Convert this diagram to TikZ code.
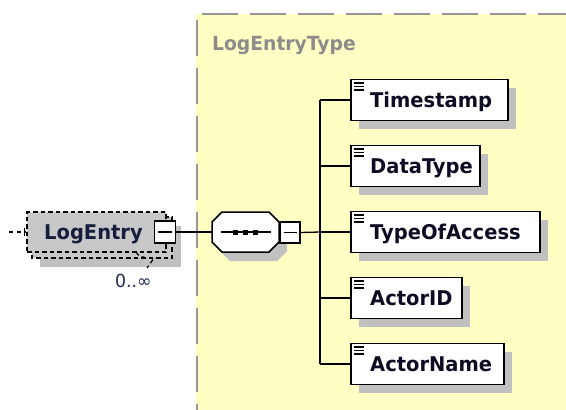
\documentclass[tikz,border=0pt]{standalone}
\usepackage{fontspec}
\setmainfont{DejaVu Sans}[FakeStretch=0.96]
\usetikzlibrary{calc,shadows}
\definecolor{yel}{RGB}{255,255,196}
\definecolor{bordgray}{RGB}{150,150,150}
\definecolor{boxgray}{RGB}{200,200,200}
\definecolor{shad}{RGB}{192,192,192}
\definecolor{txt}{RGB}{12,12,36}
\definecolor{navytxt}{RGB}{30,40,80}
\definecolor{typegray}{RGB}{140,140,140}
\begin{document}
\begin{tikzpicture}[x=1pt,y=-1pt,
  conn/.style={draw=black, line width=1.3pt},
  dsh/.style={draw=black, line width=1.2pt, dash pattern=on 4.5pt off 3pt},
  elem/.style={draw=black, line width=1.6pt, fill=white, minimum height=41pt,
    inner sep=0pt, anchor=west,
    drop shadow={shadow xshift=8pt, shadow yshift=-8pt, fill=shad, opacity=1},
    path picture={\draw[line width=1.1pt]
      ([shift={(3,3.5)}]path picture bounding box.north west) -- ++(10,0)
      ([shift={(3,7)}]path picture bounding box.north west) -- ++(10,0)
      ([shift={(3,10.5)}]path picture bounding box.north west) -- ++(10,0);}},
  elemtxt/.style={font=\fontsize{20.3}{23}\selectfont\bfseries, text=txt,
    inner sep=0pt, anchor=base west},
  minusbox/.style={draw=black, line width=1.4pt, fill=white, inner sep=0pt,
    path picture={\draw[line width=1.2pt]
      ($(path picture bounding box.west)+(3.5,0)$) --
      ($(path picture bounding box.east)+(-3.5,0)$);}}
]
\useasboundingbox (0,0) rectangle (566,410);
% complex type region
\fill[yel] (196,14) rectangle (566,410);
\draw[bordgray, line width=2pt, dash pattern=on 36pt off 12pt] (202,14) -- (566,14);
\draw[bordgray, line width=2pt, dash pattern=on 36pt off 12pt] (197,20) -- (197,410);
\node[font=\fontsize{19.5}{22}\selectfont\bfseries, text=typegray, inner sep=0pt,
  anchor=base west] (ctype) at (212,50) {LogEntryType};

% LogEntry element (repeating, optional)
\fill[shad] (40,226) rectangle (181,267);
\draw[dsh, fill=boxgray] (32,217) rectangle (172,258);
\node[dsh, fill=boxgray, minimum width=139pt, minimum height=40pt, inner sep=0pt]
  (le) at (96.5,232) {};
\node[elemtxt, text=navytxt!60!txt] (let) at (44,239.5) {LogEntry};
\draw[dsh] (136,252) .. controls (139,256) .. (145,257.5);
\draw[dsh] (153,259.5) -- (147,268);
\node[minusbox, minimum width=21pt, minimum height=22pt] (m1) at (165,232) {};
\node[font=\fontsize{18}{20}\selectfont, text=navytxt, inner sep=0pt,
  anchor=base west] (occ) at (115,287) {0..∞};

% left stub
\coordinate (stub) at (9,232);
\draw[black, line width=1.2pt, dash pattern=on 4pt off 3.5pt] (stub) -- (le.west);
\draw[black, line width=1.2pt] (24.5,228) -- (24.5,236);

% sequence compositor
\node[inner sep=0pt, minimum width=67pt, minimum height=40pt] (seq) at (245.5,232) {};
\fill[shad] (220,231) -- (230,221) -- (277,221) -- (287,231) -- (287,251)
  -- (277,261) -- (230,261) -- (220,251) -- cycle;
\draw[line width=1.5pt, fill=white] (212,222) -- (222,212) -- (269,212) -- (279,222)
  -- (279,242) -- (269,252) -- (222,252) -- (212,242) -- cycle;
\draw[line width=1.3pt] (221,232) -- (271,232);
\foreach \dx in {235.5,245.5,255.5}
  \fill (\dx,232) +(-2.5,-2.5) rectangle +(2.5,2.5);
\node[minusbox, minimum width=20pt, minimum height=21pt] (m2) at (290,232.5) {};

% children
\node[elem, minimum width=157pt] (ts) at (350,100) {};
\node[elemtxt] (tst) at ($(ts.west)+(20,7.5)$) {Timestamp};
\node[elem, minimum width=129pt] (dt) at (350,166) {};
\node[elemtxt] (dtt) at ($(dt.west)+(20,7.5)$) {DataType};
\node[elem, minimum width=189pt] (ta) at (350,232) {};
\node[elemtxt] (tat) at ($(ta.west)+(20,7.5)$) {TypeOfAccess};
\node[elem, minimum width=111pt] (ai) at (350,298) {};
\node[elemtxt] (ait) at ($(ai.west)+(20,7.5)$) {ActorID};
\node[elem, minimum width=153pt] (an) at (350,364) {};
\node[elemtxt] (ant) at ($(an.west)+(20,7.5)$) {ActorName};

% connectors
\coordinate (trunk) at (320,232);
\draw[conn] (m1.east) -- (seq.west);
\draw[conn] (m2.east) -- (trunk);
\draw[conn] (ts.west -| trunk) -- (an.west -| trunk);
\foreach \n in {ts,dt,ta,ai,an}
  \draw[conn] (\n.west -| trunk) -- (\n.west);
\end{tikzpicture}
\end{document}
